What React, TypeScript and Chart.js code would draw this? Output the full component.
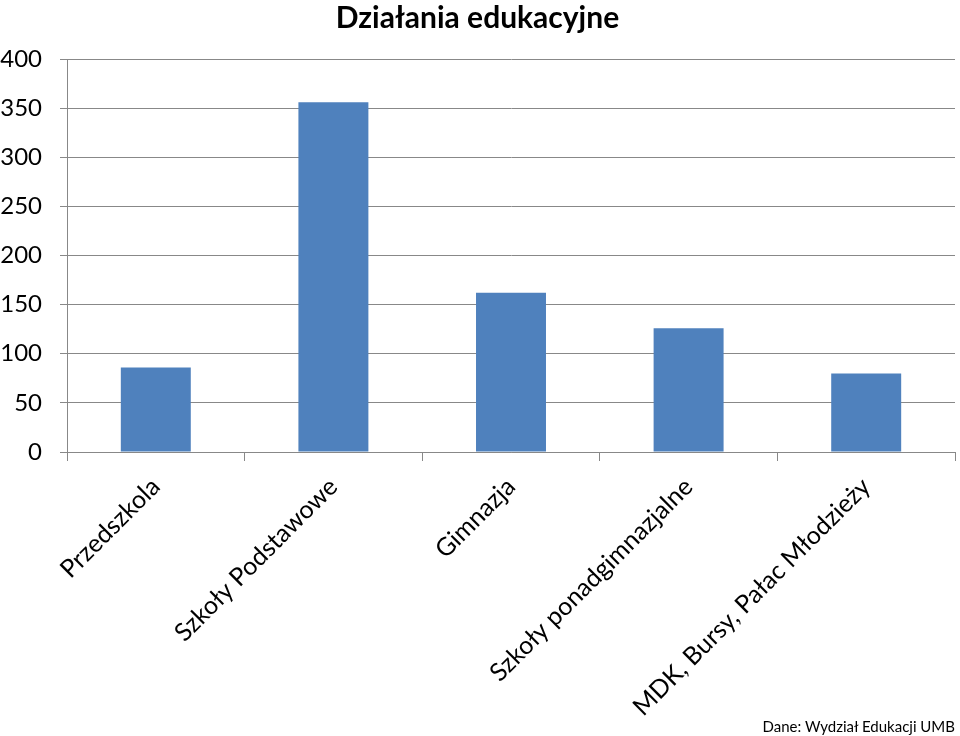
import React, { useEffect, useRef } from "react";
import { Chart, registerables } from "chart.js";

Chart.register(...registerables);

const TITLE = "Działania edukacyjne";
const SOURCE = "Dane: Wydział Edukacji UMB";
const categories = [
  "Przedszkola",
  "Szkoły Podstawowe",
  "Gimnazja",
  "Szkoły ponadgimnazjalne",
  "MDK, Bursy, Pałac Młodzieży",
];
const values = [86, 356, 162, 126, 80];
const yMin = 0;
const yMax = 400;
const yStep = 50;

const FONT = "Lato, 'Open Sans', sans-serif";

export default function App() {
  const ref = useRef<HTMLCanvasElement | null>(null);

  useEffect(() => {
    if (!ref.current) return;
    const chart = new Chart(ref.current, {
      type: "bar",
      data: {
        labels: categories,
        datasets: [
          {
            data: values,
            backgroundColor: "#4F81BD",
            borderWidth: 0,
            barPercentage: 0.394,
            categoryPercentage: 1,
          },
        ],
      },
      options: {
        animation: false,
        responsive: false,
        maintainAspectRatio: false,
        layout: { padding: { left: 0, right: 5, top: 0, bottom: 0 } },
        plugins: {
          legend: { display: false },
          tooltip: { enabled: false },
          title: {
            display: true,
            text: TITLE,
            color: "#000",
            font: { family: FONT, size: 30, weight: "bold" },
            padding: { top: 0, bottom: 23 },
          },
        },
        scales: {
          x: {
            afterFit: (scale: any) => {
              scale.paddingLeft = 0;
              scale.paddingRight = 0;
              scale.height = 284;
            },
            grid: {
              offset: true,
              drawOnChartArea: false,
              drawTicks: true,
              tickLength: 9,
              color: "#888888",
              lineWidth: 1,
            },
            border: { color: "#888888", width: 1 },
            ticks: {
              color: "#000",
              font: { family: FONT, size: 25 },
              minRotation: 45,
              maxRotation: 45,
              padding: 11,
              autoSkip: false,
            },
          },
          y: {
            min: yMin,
            max: yMax,
            afterFit: (scale: any) => {
              scale.width = 67;
            },
            grid: {
              color: "#888888",
              lineWidth: 1,
              tickLength: 7,
            },
            border: { color: "#888888", width: 1 },
            ticks: {
              stepSize: yStep,
              color: "#000",
              font: { family: FONT, size: 24 },
              padding: 18,
            },
          },
        },
      },
    });
    return () => chart.destroy();
  }, []);

  return (
    <div style={{ position: "fixed", left: 0, top: 0, width: 960, height: 736, background: "#fff" }}>
      <canvas ref={ref} width={960} height={736} style={{ display: "block" }} />
      <div
        style={{
          position: "absolute",
          right: 5,
          bottom: 0,
          fontFamily: FONT,
          fontSize: 15,
          color: "#000",
          lineHeight: "19px",
        }}
      >
        {SOURCE}
      </div>
    </div>
  );
}
